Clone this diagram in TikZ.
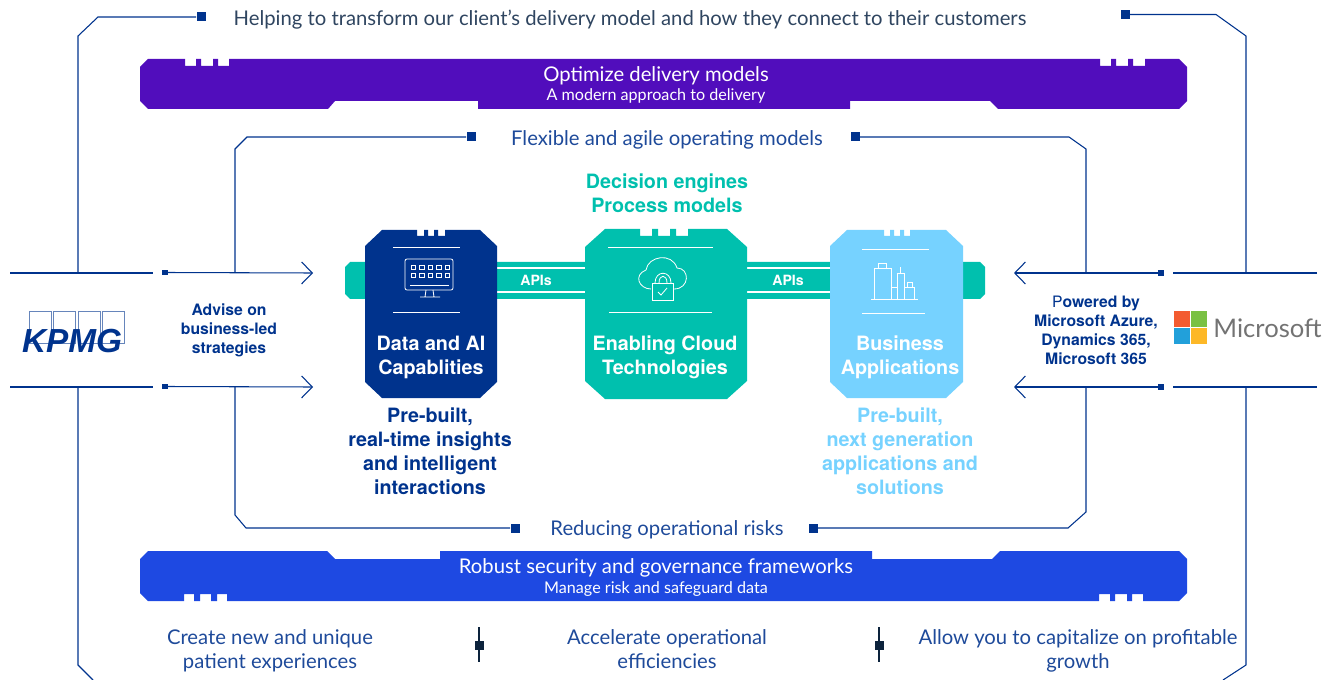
\documentclass[tikz,border=0pt]{standalone}
\usepackage{fontspec}
\usetikzlibrary{arrows.meta}
\setmainfont{Lato}
\newfontfamily\logofont{Liberation Sans}
\newfontfamily\boldfont{TeX Gyre Heros}

\definecolor{kpmgNavy}{HTML}{00338D}
\definecolor{kpmgPurple}{HTML}{510DBC}
\definecolor{kpmgBlue}{HTML}{1E49E2}
\definecolor{kpmgTeal}{HTML}{00C0AE}
\definecolor{kpmgSky}{HTML}{76D2FF}
\definecolor{frameText}{HTML}{1E4A9A}
\definecolor{topText}{HTML}{2F4560}
\definecolor{dividerDark}{HTML}{0C233C}
\definecolor{msRedFill}{HTML}{F35B30}
\definecolor{msGreenFill}{HTML}{7AC143}
\definecolor{msCyanFill}{HTML}{22A0DA}
\definecolor{msYellowFill}{HTML}{FDB827}

\tikzset{
	frameLine/.style={draw=kpmgNavy, line width=0.8pt},
	arrowLine/.style={frameLine, -{Straight Barb[length=8pt,width=16.5pt,line width=0.8pt]}},
	endSquare/.style={rectangle, fill=kpmgNavy, inner sep=0pt, minimum size=6.75pt},
	tipSquare/.style={rectangle, fill=kpmgNavy, inner sep=0pt, minimum size=4pt},
	darkSquare/.style={rectangle, fill=dividerDark, inner sep=0pt, minimum size=6.75pt},
	iconLine/.style={draw=white, line width=0.6pt},
	frameLabel/.style={text=frameText, align=center, inner sep=0pt, font=\fontsize{15.2}{18}\selectfont},
	bandTitle/.style={text=white, inner sep=0pt, font=\fontsize{15.2}{18}\selectfont},
	bandSub/.style={text=white, inner sep=0pt, font=\fontsize{12.1}{14}\selectfont},
	boldLabel/.style={align=center, inner sep=0pt, font=\boldfont\bfseries\fontsize{14.8}{18}\selectfont},
	sideLabel/.style={text=kpmgNavy, align=center, inner sep=0pt, font=\boldfont\bfseries\fontsize{11.8}{14.25}\selectfont}
}

\begin{document}
\begin{tikzpicture}[x=0.75pt,y=-0.75pt]
	
	\useasboundingbox (0,0) rectangle (1333,680);
	
	% Bands
	
	\fill[kpmgPurple] (148,59) -- (185,59) -- (185,66) -- (196,66) -- (196,59) -- (201,59) -- (201,66) -- (213,66) -- (213,59) -- (218,59) -- (218,66) -- (229,66) -- (229,59)
		-- (1100,59) -- (1100,66) -- (1111,66) -- (1111,59) -- (1116,59) -- (1116,66) -- (1128,66) -- (1128,59) -- (1133,59) -- (1133,66) -- (1145,66) -- (1145,59)
		-- (1179,59) -- (1187,67) -- (1187,101) -- (1179,109) -- (998,109) -- (990,101) -- (850,101) -- (850,109) -- (478,109) -- (478,101) -- (335,101) -- (328,109)
		-- (148,109) -- (140,101) -- (140,67) -- cycle;
	
	\fill[kpmgBlue] (148,551) -- (327,551) -- (335,559) -- (440,559) -- (440,551) -- (872,551) -- (872,559) -- (992,559) -- (1000,551) -- (1179,551) -- (1187,559) -- (1187,593)
		-- (1179,601) -- (1143,601) -- (1143,594) -- (1132,594) -- (1132,601) -- (1127,601) -- (1127,594) -- (1115,594) -- (1115,601) -- (1110,601) -- (1110,594) -- (1099,594) -- (1099,601)
		-- (227,601) -- (227,594) -- (217,594) -- (217,601) -- (211,601) -- (211,594) -- (200,594) -- (200,601) -- (194,601) -- (194,594) -- (184,594) -- (184,601)
		-- (148,601) -- (140,593) -- (140,559) -- cycle;
	
	% API bus
	
	\fill[kpmgTeal] (350,262) -- (980,262) -- (985,267) -- (985,294) -- (980,299) -- (350,299) -- (345,294) -- (345,267) -- cycle;
	
	\draw[white, line width=0.8pt] (497,268) -- (585,268) (497,292) -- (585,292);
	\draw[white, line width=0.8pt] (747,268) -- (830,268) (747,292) -- (830,292);
	
	\node[text=white, inner sep=0pt, font=\boldfont\bfseries\fontsize{10.6}{14}\selectfont] (api1) at (536,280) {APIs};
	\node[text=white, inner sep=0pt, font=\boldfont\bfseries\fontsize{10.6}{14}\selectfont] (api2) at (788,280) {APIs};
	
	% Blocks
	
	\fill[kpmgNavy] (382,230) -- (417,230) -- (417,236) -- (424,236) -- (424,230) -- (428,230) -- (428,236) -- (434,236) -- (434,230) -- (438,230) -- (438,236) -- (445,236) -- (445,230)
		-- (480,230) -- (497,246) -- (497,382) -- (480,398) -- (382,398) -- (365,382) -- (365,246) -- cycle;
	
	\fill[kpmgTeal] (605,229) -- (640,229) -- (640,236) -- (652,236) -- (652,229) -- (658,229) -- (658,236) -- (670,236) -- (670,229) -- (676,229) -- (676,236) -- (688,236) -- (688,229)
		-- (727,229) -- (747,247) -- (747,381) -- (727,399) -- (605,399) -- (585,381) -- (585,247) -- cycle;
	
	\fill[kpmgSky] (847,230) -- (884,230) -- (884,236) -- (890,236) -- (890,230) -- (894,230) -- (894,236) -- (900,236) -- (900,230) -- (904,230) -- (904,236) -- (910,236) -- (910,230)
		-- (946,230) -- (963,246) -- (963,382) -- (946,398) -- (847,398) -- (830,382) -- (830,246) -- cycle;
	
	\draw[iconLine] (393,247) -- (460,247) (393,312) -- (460,312);
	\draw[iconLine] (608,247) -- (713,247) (609,312) -- (712,312);
	\draw[iconLine] (862,249) -- (929,249) (862,313) -- (925,313);
	
	% Icons
	
	\draw[iconLine, rounded corners=1.5pt] (405,259) rectangle (453,290);
	\draw[iconLine] (410,285) -- (449,285);
	\draw[iconLine] (426,290) -- (425,297) -- (420,297) -- (440,297) -- (434,297) -- (433,290);
	\foreach \i in {0,...,4} {
		\draw[iconLine, line width=0.5pt] (411+\i*8.5,265) rectangle ++(4.5,4.5);
		\draw[iconLine, line width=0.5pt] (411+\i*8.5,273) rectangle ++(4.5,4.5);
	}
	
	\draw[iconLine] (651,289) .. controls (639,289) and (633,275) .. (646,270) .. controls (648,256) and (672,252) .. (677,268) .. controls (690,268) and (690,289) .. (674,289);
	\draw[iconLine] (652,283) rectangle (673,300);
	\draw[iconLine] (655,283) .. controls (655,270) and (671,270) .. (671,283);
	\draw[iconLine] (659,283) .. controls (659,274) and (667,274) .. (667,283);
	\draw[iconLine] (658,292) -- (661,295) -- (667,288);
	
	\draw[iconLine] (871,299) -- (918,299);
	\draw[iconLine] (874,299) -- (874,268) -- (891,268) -- (891,299);
	\draw[iconLine] (878,268) -- (878,263) -- (886,263) -- (886,268);
	\draw[iconLine] (891,287) -- (897,287) -- (897,299);
	\draw[iconLine] (897,287) -- (897,273) -- (904,273) -- (904,299);
	\draw[iconLine] (900.5,273) -- (900.5,267);
	\draw[iconLine] (904,287) -- (914,287) -- (914,299);
	\draw[iconLine] (907,287) -- (907,282) -- (912,282) -- (912,287);
	
	% Terminals
	
	\node[endSquare] (outerTL) at (201,17) {};
	\node[endSquare] (outerTR) at (1125,14.5) {};
	\node[endSquare] (innerTL) at (471,137) {};
	\node[endSquare] (innerTR) at (855,137) {};
	\node[endSquare] (innerBL) at (515,528) {};
	\node[endSquare] (innerBR) at (813,528) {};
	
	\node[tipSquare] (leftUp) at (165,272.5) {};
	\node[tipSquare] (leftDown) at (165,386.5) {};
	\node[tipSquare] (rightUp) at (1161,273) {};
	\node[tipSquare] (rightDown) at (1161,387) {};
	
	\coordinate (leftUpIn) at (10,273);
	\coordinate (leftUpOut) at (153,273);
	\coordinate (leftUpTip) at (313,273);
	\coordinate (leftDownIn) at (10,387);
	\coordinate (leftDownOut) at (153,387);
	\coordinate (leftDownTip) at (313,387);
	\coordinate (rightUpIn) at (1317,273);
	\coordinate (rightUpOut) at (1173,273);
	\coordinate (rightUpTip) at (1014,273);
	\coordinate (rightDownIn) at (1317,387);
	\coordinate (rightDownOut) at (1173,387);
	\coordinate (rightDownTip) at (1014,387);
	
	\draw[frameLine] (leftUpIn) -- (leftUpOut);
	\draw[frameLine] (leftDownIn) -- (leftDownOut);
	\draw[frameLine] (rightUpIn) -- (rightUpOut);
	\draw[frameLine] (rightDownIn) -- (rightDownOut);
	
	\draw[arrowLine] (leftUp) -- (leftUpTip);
	\draw[arrowLine] (leftDown) -- (leftDownTip);
	\draw[arrowLine] (rightUp) -- (rightUpTip);
	\draw[arrowLine] (rightDown) -- (rightDownTip);
	
	% Frames
	
	\coordinate (outerLU) at (78,273);
	\coordinate (outerLD) at (78,387);
	\coordinate (outerRU) at (1246,273);
	\coordinate (outerRD) at (1246,387);
	\coordinate (outerLEnd) at (93,680);
	\coordinate (outerREnd) at (1223,680);
	\coordinate (innerLU) at (235,273);
	\coordinate (innerLD) at (235,387);
	\coordinate (innerRU) at (1086,273);
	\coordinate (innerRD) at (1086,387);
	
	\draw[frameLine] (outerLU) -- (78,36) -- (98,17) -- (outerTL);
	\draw[frameLine] (outerRU) -- (1246,36) -- (1216,14.5) -- (outerTR);
	\draw[frameLine] (outerLD) -- (78,665) -- (outerLEnd);
	\draw[frameLine] (outerRD) -- (1246,665) -- (outerREnd);
	
	\draw[frameLine] (innerLU) -- (235,149) -- (247,137) -- (innerTL);
	\draw[frameLine] (innerRU) -- (1086,149) -- (1069,137) -- (innerTR);
	\draw[frameLine] (innerLD) -- (235,515) -- (246,528) -- (innerBL);
	\draw[frameLine] (innerRD) -- (1086,512) -- (1068,528) -- (innerBR);
	
	% Dividers
	
	\node[darkSquare] (divider1) at (479,645) {};
	\node[darkSquare] (divider2) at (879,645) {};
	\coordinate (divider1Top) at (479,627);
	\coordinate (divider1End) at (479,662);
	\coordinate (divider2Top) at (879,627);
	\coordinate (divider2End) at (879,662);
	\draw[dividerDark, line width=0.8pt] (divider1Top) -- (divider1End);
	\draw[dividerDark, line width=0.8pt] (divider2Top) -- (divider2End);
	
	% Labels
	
	\node[frameLabel, text=topText] (topLabel) at (630,20) {Helping to transform our client’s delivery model and how they connect to their customers};
	\node[frameLabel] (flexLabel) at (667,140) {Flexible and agile operating models};
	\node[frameLabel] (riskLabel) at (667,530) {Reducing operational risks};
	
	\node[bandTitle] (bandTop) at (656,76) {Optimize delivery models};
	\node[bandSub] (bandTopSub) at (656,96) {A modern approach to delivery};
	\node[bandTitle] (bandLow) at (656,568) {Robust security and governance frameworks};
	\node[bandSub] (bandLowSub) at (656,589) {Manage risk and safeguard data};
	
	\node[boldLabel, text=kpmgTeal] (engines) at (667,193.5) {Decision engines\\Process models};
	
	\node[boldLabel, text=white] (block1) at (431,357.5) {Data and AI\\Capablities};
	\node[boldLabel, text=white] (block2) at (665,357.5) {Enabling Cloud\\Technologies};
	\node[boldLabel, text=white] (block3) at (900,357.5) {Business\\Applications};
	
	\node[boldLabel, text=kpmgNavy] (insights) at (430,451.5) {Pre-built,\\real-time insights\\and intelligent\\interactions};
	\node[boldLabel, text=kpmgSky] (solutions) at (900,451.5) {Pre-built,\\next generation\\applications and\\solutions};
	
	\node[sideLabel] (advise) at (229,330.5) {Advise on\\business-led\\strategies};
	\node[sideLabel] (powered) at (1096,330.5) {{\mdseries P}owered by\\Microsoft Azure,\\Dynamics 365,\\Microsoft 365};
	
	\node[frameLabel] (benefit1) at (270,651) {Create new and unique\\patient experiences};
	\node[frameLabel] (benefit2) at (667,649) {Accelerate operational\\efficiencies};
	\node[frameLabel] (benefit3) at (1078,651) {Allow you to capitalize on profitable\\growth};
	
	% Logos
	
	\foreach \x/\n in {29/a,53/b,78/c,102/d} {
		\node[draw=kpmgNavy!60, line width=0.6pt, inner sep=0pt, minimum width=16.5pt, minimum height=24pt, anchor=north west] (kpmgBox\n) at (\x,311) {};
	}
	\node[text=kpmgNavy, inner sep=0pt, font=\logofont\bfseries\itshape\fontsize{25}{25}\selectfont] (kpmgName) at (72,341) {KPMG};
	
	\node[fill=msRedFill, inner sep=0pt, minimum size=12pt] (msRed) at (1182,319) {};
	\node[fill=msGreenFill, inner sep=0pt, minimum size=12pt] (msGreen) at (1199,319) {};
	\node[fill=msCyanFill, inner sep=0pt, minimum size=12pt] (msCyan) at (1182,336) {};
	\node[fill=msYellowFill, inner sep=0pt, minimum size=12pt] (msYellow) at (1199,336) {};
	\node[text=black!55, inner sep=0pt, font=\fontsize{19.2}{24}\selectfont] (msName) at (1267.5,328) {Microsoft};
	
\end{tikzpicture}
\end{document}
